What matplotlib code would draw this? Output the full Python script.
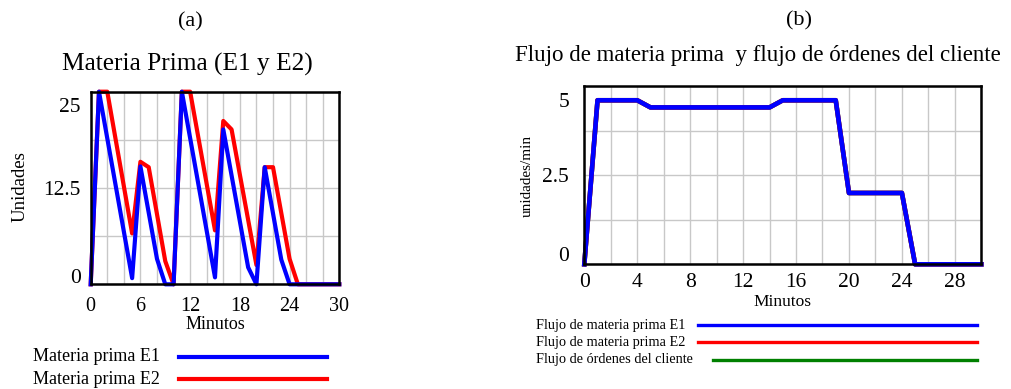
import matplotlib
matplotlib.use("Agg")
import matplotlib.pyplot as plt
from matplotlib.lines import Line2D
from matplotlib.transforms import ScaledTranslation

plt.rcParams['font.family'] = ['Liberation Serif', 'DejaVu Serif']

# ---- data (a): stock of raw material, vertices
t_e1 = [0, 1, 5, 6, 8, 9, 10, 11, 15, 16, 19, 20, 21, 23, 24, 30]
mp_e1 = [0, 25, 0.8, 15.3, 3.3, 0, 0, 25, 0.9, 20.1, 2.2, 0, 15.2, 3.2, 0, 0]
t_e2 = [0, 1, 2, 5, 6, 7, 9, 10, 11, 12, 15, 16, 17, 20, 21, 22, 24, 25, 30]
mp_e2 = [0, 25, 25, 6.6, 15.9, 15.2, 3.0, 0, 25, 25, 7.0, 21.2, 20.1, 2.5, 15.2, 15.2, 3.3, 0, 0]

# ---- data (b): flows (all three series overlap)
t_flow = [0, 1, 4, 5, 14, 15, 19, 20, 24, 25, 30]
flujo_e1 = [0, 4.6, 4.6, 4.4, 4.4, 4.6, 4.6, 2.0, 2.0, 0, 0]
flujo_e2 = [0, 4.6, 4.6, 4.4, 4.4, 4.6, 4.6, 2.0, 2.0, 0, 0]
flujo_ordenes = [0, 4.6, 4.6, 4.4, 4.4, 4.6, 4.6, 2.0, 2.0, 0, 0]

W, H = 1011, 389
fig = plt.figure(figsize=(W / 100, H / 100), dpi=100)


def fx(x):
    return x / W


def fy(y):
    return 1 - y / H


def box(ax, xr, yr, xgrid, ygrid, xticks, yticks, ylabels):
    ax.set_xlim(*xr)
    ax.set_ylim(*yr)
    ax.set_xticks(xgrid, minor=True)
    ax.set_yticks(ygrid, minor=True)
    ax.set_xticks(xticks)
    ax.set_yticks(yticks, ylabels)
    ax.grid(which='both', color='#c8c8c8', lw=1.0)
    ax.tick_params(which='both', length=0)
    for s in ax.spines.values():
        s.set_linewidth(1.8)
        s.set_color('black')
    ax.set_axisbelow(True)


# ---------------- (a)
ax1 = fig.add_axes([fx(90.7), fy(284.3), (339.3 - 90.7) / W, (284.3 - 91.7) / H])
box(ax1, (0, 30), (0, 25), range(0, 31, 2), [0, 6.25, 12.5, 18.75, 25],
    [0, 6, 12, 18, 24, 30], [0, 12.5, 25], ['0', '12.5', '25'])
ax1.plot(t_e2, mp_e2, color='red', lw=3, clip_on=False)
ax1.plot(t_e1, mp_e1, color='blue', lw=3, clip_on=False)
ax1.tick_params(axis='x', labelsize=14.5, pad=9)
ax1.tick_params(axis='y', labelsize=15.5, pad=7)
ylab = ax1.get_yticklabels()
ylab[0].set_transform(ylab[0].get_transform() + ScaledTranslation(0, 6 / 72, fig.dpi_scale_trans))
ylab[-1].set_transform(ylab[-1].get_transform() + ScaledTranslation(0, -9.8 / 72, fig.dpi_scale_trans))
ax1.set_xlabel('Minutos', fontsize=13)
ax1.xaxis.set_label_coords(0.5, -0.211)
ax1.xaxis.label.set_va('center')
ax1.set_ylabel('Unidades', fontsize=13.5)
ax1.yaxis.set_label_coords(-0.284, 0.505)
ax1.yaxis.label.set_va('center')

fig.text(fx(190), fy(22), '(a)', fontsize=16, ha='center', va='center')
fig.text(fx(187.5), fy(64), 'Materia Prima (E1 y E2)', fontsize=18.3, ha='center', va='center')

fig.text(fx(33), fy(356.7), 'Materia prima E1', fontsize=13, va='center')
fig.text(fx(33), fy(380), 'Materia prima E2', fontsize=13, va='center')
fig.add_artist(Line2D([fx(179), fx(327)], [fy(356.7), fy(356.7)], color='blue', lw=3))
fig.add_artist(Line2D([fx(179), fx(327)], [fy(379), fy(379)], color='red', lw=3))

# ---------------- (b)
ax2 = fig.add_axes([fx(584.3), fy(264.3), (981.3 - 584.3) / W, (264.3 - 86) / H])
box(ax2, (0, 30), (0, 5), range(0, 31, 2), [0, 1.25, 2.5, 3.75, 5],
    range(0, 29, 4), [0, 2.5, 5], ['0', '2.5', '5'])
ax2.plot(t_flow, flujo_ordenes, color='green', lw=3.3, clip_on=False)
ax2.plot(t_flow, flujo_e2, color='red', lw=3.3, clip_on=False)
ax2.plot(t_flow, flujo_e1, color='blue', lw=3.3, clip_on=False)
ax2.tick_params(axis='x', labelsize=15.5, pad=6)
ax2.tick_params(axis='y', labelsize=15.5, pad=11)
ylab = ax2.get_yticklabels()
ylab[0].set_transform(ylab[0].get_transform() + ScaledTranslation(0, 7.4 / 72, fig.dpi_scale_trans))
ylab[-1].set_transform(ylab[-1].get_transform() + ScaledTranslation(0, -10.4 / 72, fig.dpi_scale_trans))
ax2.set_xlabel('Minutos', fontsize=12.5)
ax2.xaxis.set_label_coords(0.5, -0.21)
ax2.xaxis.label.set_va('center')
ax2.set_ylabel('unidades/min', fontsize=11)
ax2.yaxis.set_label_coords(-0.144, 0.495)
ax2.yaxis.label.set_va('center')

fig.text(fx(799), fy(21), '(b)', fontsize=16, ha='center', va='center')
fig.text(fx(757.5), fy(56), 'Flujo de materia prima  y flujo de órdenes del cliente',
         fontsize=16.5, ha='center', va='center')

fig.text(fx(536), fy(325), 'Flujo de materia prima E1', fontsize=10.3, va='center')
fig.text(fx(536), fy(342.3), 'Flujo de materia prima E2', fontsize=10.3, va='center')
fig.text(fx(536), fy(360), 'Flujo de órdenes del cliente', fontsize=10.3, va='center')
fig.add_artist(Line2D([fx(698), fx(977)], [fy(325), fy(325)], color='blue', lw=2.4))
fig.add_artist(Line2D([fx(698), fx(977)], [fy(342.3), fy(342.3)], color='red', lw=2.4))
fig.add_artist(Line2D([fx(713), fx(977)], [fy(360), fy(360)], color='green', lw=2.4))

fig.savefig('out.png', dpi=100)
